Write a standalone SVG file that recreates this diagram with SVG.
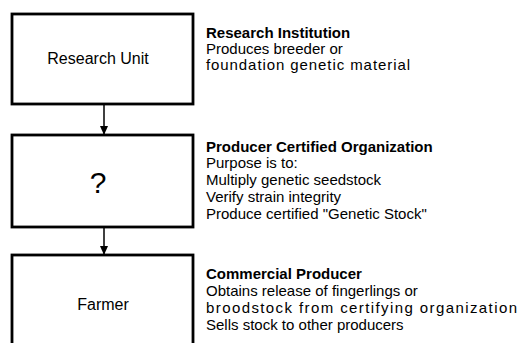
<svg xmlns="http://www.w3.org/2000/svg" width="522" height="343" viewBox="0 0 522 343">
  <defs>
    <marker id="arrow" markerWidth="9" markerHeight="8" refX="8" refY="4" orient="auto" markerUnits="userSpaceOnUse">
      <path d="M0,0 L9,4 L0,8 Z" fill="#000"/>
    </marker>
    <style>
      .box { fill: #fff; stroke: #000; stroke-width: 2.8; }
      .lbl { font-family: "Liberation Sans", Arial, sans-serif; font-size: 16px; fill: #000; text-anchor: middle; }
      .q { font-size: 30px; }
      .desc { font-family: "Liberation Sans", Arial, sans-serif; font-size: 15px; fill: #000; }
      .ttl { font-weight: bold; }
      .conn { stroke: #000; stroke-width: 1.5; fill: none; }
    </style>
  </defs>
  <rect width="522" height="343" fill="#fff"/>

  <g id="connectors">
    <line class="conn" x1="104" y1="104" x2="104" y2="134" marker-end="url(#arrow)"/>
    <line class="conn" x1="104" y1="227" x2="104" y2="254" marker-end="url(#arrow)"/>
  </g>

  <g id="research-unit">
    <rect class="box" x="12" y="14" width="181" height="90"/>
    <text class="lbl" x="98" y="64">Research Unit</text>
  </g>

  <g id="certified-org">
    <rect class="box" x="12" y="135" width="181" height="92"/>
    <text class="lbl q" x="98" y="193">?</text>
  </g>

  <g id="farmer">
    <rect class="box" x="12" y="255" width="181" height="100"/>
    <text class="lbl" x="103" y="310">Farmer</text>
  </g>

  <g id="research-institution-note">
    <text class="desc ttl" x="206" y="38">Research Institution</text>
    <text class="desc" x="206" y="54">Produces breeder or</text>
    <text class="desc" x="206" y="70" textLength="204" lengthAdjust="spacing">foundation genetic material</text>
  </g>

  <g id="certified-org-note">
    <text class="desc ttl" x="206" y="152">Producer Certified Organization</text>
    <text class="desc" x="206" y="168">Purpose is to:</text>
    <text class="desc" x="206" y="185">Multiply genetic seedstock</text>
    <text class="desc" x="206" y="202">Verify strain integrity</text>
    <text class="desc" x="206" y="219">Produce certified "Genetic Stock"</text>
  </g>

  <g id="commercial-producer-note">
    <text class="desc ttl" x="206" y="279">Commercial Producer</text>
    <text class="desc" x="206" y="296">Obtains release of fingerlings or</text>
    <text class="desc" x="206" y="313" textLength="311" lengthAdjust="spacing">broodstock from certifying organization</text>
    <text class="desc" x="206" y="330">Sells stock to other producers</text>
  </g>
</svg>
